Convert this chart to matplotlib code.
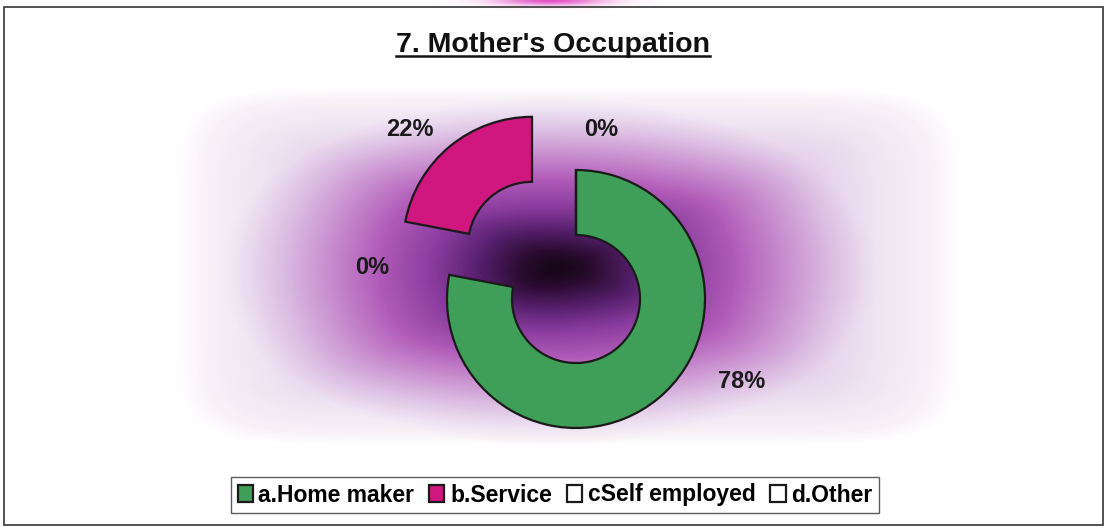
import numpy as np
import matplotlib
matplotlib.use("Agg")
import matplotlib.pyplot as plt
from matplotlib.colors import LinearSegmentedColormap
from matplotlib.patches import Rectangle
from matplotlib.lines import Line2D

# ---- data ----
categories = ["a.Home maker", "b.Service", "cSelf employed", "d.Other"]
values = [78, 22, 0, 0]
colors = ["#3f9e57", "#d0177f", "#ffffff", "#ffffff"]
title = "7. Mother's Occupation"

# ---- layout (pixel coords, image y from top) ----
W, H = 1107, 529
pie_center_img = (576, 299)
radius = 129
ring_width = 65
explode = [0, 69, 0, 0]
label_pos_img = [(742, 382), (410, 130), (601, 130), (372, 268)]

plt.rcParams['font.family'] = ['Liberation Sans', 'DejaVu Sans']

fig = plt.figure(figsize=(W / 100, H / 100), dpi=100)
fig.patch.set_facecolor("white")
ax = fig.add_axes([0, 0, 1, 1])
ax.set_xlim(0, W)
ax.set_ylim(0, H)
ax.axis("off")

# background gradient (decoration)
yy, xx = np.mgrid[0:H, 0:W].astype(float)
cx, cy = 548, 270
d_ell = np.clip(np.sqrt(((xx - cx) / 330.0) ** 2 + ((yy - cy) / 175.0) ** 2), 0, 1)
d_rect = np.clip(((np.abs(xx - 568) / 392.0) ** 8 +
                  (np.abs(yy - 266) / 180.0) ** 8) ** (1 / 8), 0, 1)
t = 0.55 * d_ell + 0.45 * d_rect
cmap = LinearSegmentedColormap.from_list("bg", [
    (0.00, "#100512"), (0.10, "#2a0c30"), (0.22, "#57206e"),
    (0.35, "#8a3c9e"), (0.50, "#b05ab8"), (0.65, "#c990cf"),
    (0.78, "#dcbfe3"), (0.90, "#eee3f2"), (0.97, "#f8f2f8"),
    (1.00, "#ffffff")])
ax.imshow(cmap(t), extent=(0, W, 0, H), origin="upper", zorder=0,
          interpolation="bilinear", aspect="auto")

# small pink smear at the top edge (scan artifact)
blob = np.exp(-(((xx - 550) / 55.0) ** 2 + ((yy - 0) / 5.0) ** 2))
rgba = np.zeros((H, W, 4))
rgba[..., 0] = 0.88
rgba[..., 1] = 0.25
rgba[..., 2] = 0.75
rgba[..., 3] = blob * 0.9
ax.imshow(rgba, extent=(0, W, 0, H), origin="upper", zorder=1,
          interpolation="bilinear", aspect="auto")

# frame
ax.add_patch(Rectangle((4, H - 525), 1099, 518, fill=False,
                       edgecolor="#444444", lw=1.3, zorder=5))

# donut
center = (pie_center_img[0], H - pie_center_img[1])
wedges, _ = ax.pie(values, colors=colors, startangle=90, counterclock=False,
                   radius=radius, center=center, explode=explode,
                   wedgeprops=dict(width=ring_width, edgecolor="#1a1a1a",
                                   linewidth=1.6),
                   frame=True)
ax.set_xlim(0, W)
ax.set_ylim(0, H)
ax.axis("off")
for w in wedges:
    w.set_zorder(3)

# data labels
for v, (lx, ly) in zip(values, label_pos_img):
    ax.text(lx, H - ly, f"{v:.0f}%", ha="center", va="center",
            fontsize=17, fontweight="bold", color="#1a1a1a", zorder=4)

# title with underline
t = ax.text(553, H - 52, title, ha="center", va="baseline",
            fontsize=20.5, fontweight="bold", color="#111111", zorder=4)
fig.canvas.draw()
bb = t.get_window_extent()
ax.add_line(Line2D([bb.x0, bb.x1], [H - 55.5, H - 55.5], color="#111111",
                   lw=1.8, zorder=4))

# legend
leg = ax.legend(wedges, categories, loc="center",
                bbox_to_anchor=(555, H - 495), bbox_transform=ax.transData,
                ncol=4, frameon=True, fancybox=False, shadow=False,
                prop=dict(family="Liberation Sans", weight="bold", size=16.5),
                handlelength=0.66, handleheight=0.7, handletextpad=0.25,
                columnspacing=0.65, borderpad=0.3, borderaxespad=0)
leg.get_frame().set_edgecolor("#333333")
leg.get_frame().set_linewidth(1.0)
leg.set_zorder(6)

fig.savefig("out.png", dpi=100)
